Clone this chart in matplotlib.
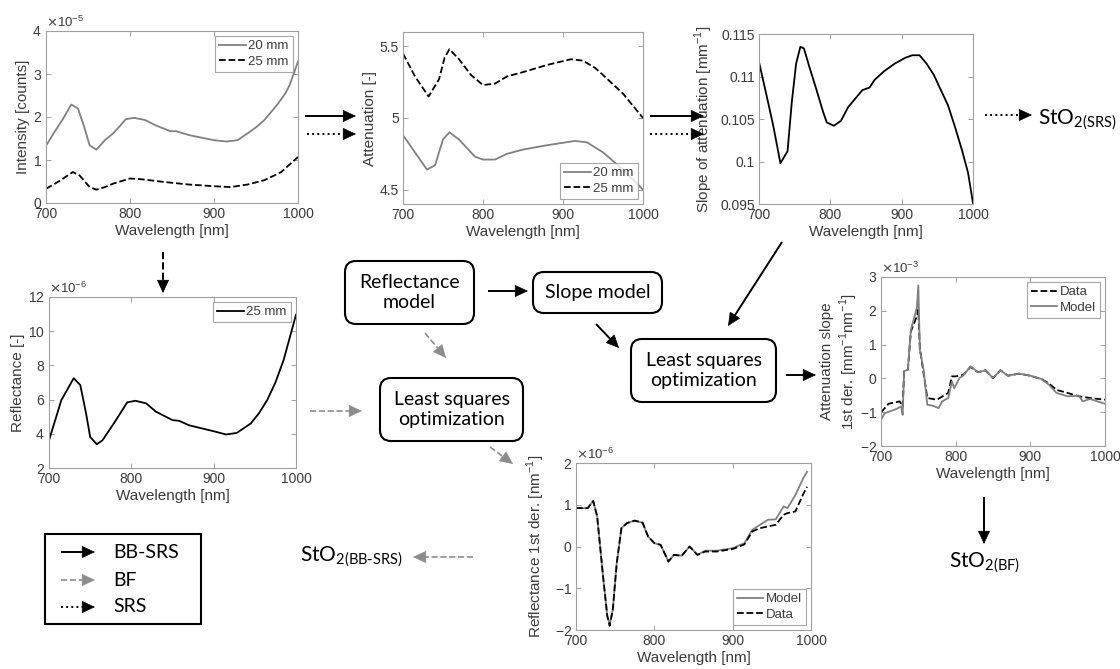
import numpy as np
import matplotlib
matplotlib.use("Agg")
import matplotlib.pyplot as plt
from matplotlib.patches import FancyBboxPatch, Rectangle
from matplotlib.ticker import FuncFormatter

plt.rcParams['font.family'] = ['Liberation Sans', 'DejaVu Sans']

# ---- data ----
# intensity (counts, x1e-5)
int_wl_20 = [700, 710, 720, 730, 738, 745, 752, 760, 770, 780, 788, 795, 805, 818, 830, 848, 855, 870, 900, 915,
             928, 940, 950, 960, 975, 985, 990, 1000]
int_20 = [1.33, 1.65, 1.95, 2.29, 2.20, 1.80, 1.34, 1.24, 1.46, 1.62, 1.79, 1.95, 1.98, 1.93, 1.81, 1.67, 1.67,
          1.58, 1.46, 1.43, 1.46, 1.62, 1.76, 1.93, 2.28, 2.55, 2.74, 3.29]
int_wl_25 = [700, 715, 732, 740, 752, 760, 770, 780, 800, 815, 840, 870, 900, 920, 940, 960, 980, 1000]
int_25 = [0.33, 0.50, 0.72, 0.64, 0.37, 0.31, 0.37, 0.45, 0.57, 0.55, 0.49, 0.43, 0.39, 0.37, 0.43, 0.53, 0.72, 1.07]

# attenuation
att_wl_25 = [700, 715, 732, 745, 752, 758, 770, 785, 800, 815, 830, 850, 880, 910, 925, 940, 950, 975, 1000]
att_25 = [5.45, 5.29, 5.15, 5.27, 5.42, 5.48, 5.41, 5.30, 5.23, 5.24, 5.29, 5.32, 5.37, 5.41, 5.40, 5.35, 5.30,
          5.17, 5.00]
att_wl_20 = [700, 715, 730, 740, 750, 758, 770, 790, 800, 815, 830, 850, 880, 915, 930, 950, 975, 1000]
att_20 = [4.88, 4.76, 4.64, 4.67, 4.85, 4.90, 4.85, 4.73, 4.71, 4.71, 4.75, 4.78, 4.81, 4.84, 4.83, 4.76, 4.64, 4.50]

# slope of attenuation
slope_wl = [700, 710, 720, 730, 740, 746, 752, 758, 763, 770, 780, 790, 795, 805, 815, 825, 835, 845, 855, 862, 875,
            890, 905, 915, 925, 935, 945, 955, 965, 975, 985, 993, 1000]
slope = [0.1117, 0.1080, 0.1042, 0.0998, 0.1012, 0.1070, 0.1115, 0.1135, 0.1133, 0.1113, 0.1086, 0.1058, 0.1046,
         0.1042, 0.1048, 0.1064, 0.1074, 0.1084, 0.1087, 0.1096, 0.1106, 0.1115, 0.1122, 0.1125, 0.1125, 0.1115,
         0.1102, 0.1084, 0.1066, 0.1040, 0.1012, 0.0987, 0.0951]

# reflectance 25 mm (x1e-6)
refl_wl = [700, 715, 730, 738, 745, 750, 758, 765, 780, 795, 805, 818, 830, 850, 858, 870, 900, 915, 928, 945, 955,
           965, 975, 985, 1000]
refl = [3.62, 5.97, 7.25, 6.85, 5.20, 3.82, 3.39, 3.62, 4.70, 5.84, 5.93, 5.78, 5.29, 4.80, 4.76, 4.50, 4.15, 3.96,
        4.05, 4.60, 5.20, 5.97, 7.00, 8.32, 10.96]

# attenuation slope 1st derivative (x1e-3)
asd_wl_model = [700, 705, 720, 727, 729, 731, 736, 740, 745, 748, 750, 752, 757, 762, 770, 777, 782, 790, 795, 798,
                805, 810, 820, 830, 840, 850, 860, 870, 885, 900, 915, 925, 935, 950, 965, 970, 980, 1000]
asd_model = [-1.22, -1.03, -0.91, -0.83, -1.08, 0.21, 0.26, 1.44, 1.84, 2.09, 2.75, 0.85, 0.26, -0.78, -0.81, -0.88,
             -0.68, -0.58, -0.09, -0.29, 0.01, 0.08, 0.36, 0.18, 0.24, 0.01, 0.24, 0.08, 0.14, 0.08, -0.02, -0.19,
             -0.43, -0.53, -0.51, -0.68, -0.61, -0.75]
asd_wl_data = [700, 710, 725, 729, 731, 736, 740, 748, 750, 752, 762, 775, 790, 795, 800, 810, 820, 830, 840, 850,
               860, 870, 885, 900, 915, 925, 935, 950, 965, 980, 1000]
asd_data = [-1.01, -0.75, -0.68, -0.83, 0.21, 0.26, 1.39, 1.84, 2.04, 0.90, -0.58, -0.63, -0.43, 0.06, 0.06, 0.10,
            0.34, 0.18, 0.24, 0.01, 0.24, 0.08, 0.14, 0.08, -0.02, -0.15, -0.34, -0.43, -0.53, -0.58, -0.63]

# reflectance 1st derivative (x1e-6)
rd_wl = [700, 715, 722, 727, 735, 740, 743, 747, 752, 758, 765, 775, 785, 792, 800, 808, 818, 825, 835, 845, 855,
         865, 880, 900, 915, 925, 935, 945, 955, 965, 970, 980, 990, 995]
rd_model = [0.92, 0.92, 1.09, 0.72, -0.80, -1.67, -1.87, -1.51, -0.40, 0.44, 0.56, 0.62, 0.57, 0.24, 0.08, 0.04,
            -0.36, -0.20, -0.22, 0.00, -0.20, -0.10, -0.10, -0.04, 0.08, 0.40, 0.52, 0.64, 0.65, 0.96, 0.92, 1.23,
            1.63, 1.79]
rd_data = [0.92, 0.92, 1.09, 0.72, -0.80, -1.67, -1.90, -1.51, -0.40, 0.44, 0.56, 0.62, 0.57, 0.24, 0.08, 0.04,
           -0.36, -0.20, -0.22, 0.00, -0.20, -0.12, -0.12, -0.06, 0.05, 0.36, 0.44, 0.48, 0.52, 0.76, 0.80, 0.84,
           1.25, 1.43]

W, H = 1120, 669
fig = plt.figure(figsize=(W / 100, H / 100), dpi=100)
GRAY = '#808080'
TXT = '#3a3a3a'


def px_axes(x0, y0, x1, y1):
    return fig.add_axes([x0 / W, 1 - y1 / H, (x1 - x0) / W, (y1 - y0) / H])


def style(ax):
    ax.set_xlim(700, 1000)
    ax.set_xticks([700, 800, 900, 1000])
    ax.tick_params(direction='in', top=True, right=True, length=3.5, width=0.6, color='#909090',
                   labelsize=10, labelcolor=TXT, pad=3)
    for s in ax.spines.values():
        s.set_color('#a0a0a0')
        s.set_linewidth(0.8)
    ax.set_xlabel('Wavelength [nm]', fontsize=11, color=TXT, labelpad=2)


def ylab(ax, text, xfrac):
    ax.set_ylabel(text, fontsize=11, color=TXT)
    ax.yaxis.set_label_coords(xfrac, 0.5)


def sci(ax, p):
    ax.ticklabel_format(axis='y', style='sci', scilimits=(p, p), useMathText=True)
    ax.yaxis.get_offset_text().set_fontsize(9.5)
    ax.yaxis.get_offset_text().set_color(TXT)


def leg(ax, loc, order=None):
    h, l = ax.get_legend_handles_labels()
    if order:
        h = [h[i] for i in order]
        l = [l[i] for i in order]
    lg = ax.legend(h, l, loc=loc, fontsize=9.5, frameon=True, fancybox=False, handlelength=2.0,
                   handletextpad=0.2, borderpad=0.3, labelspacing=0.25, borderaxespad=0.4)
    lg.get_frame().set_edgecolor('#909090')
    lg.get_frame().set_linewidth(0.8)
    for t in lg.get_texts():
        t.set_color(TXT)


gfmt = FuncFormatter(lambda v, p: '%g' % v)

# intensity
ax1 = px_axes(46, 31, 298, 203)
ax1.plot(int_wl_20, np.array(int_20) * 1e-5, color=GRAY, lw=1.3, label='20 mm')
ax1.plot(int_wl_25, np.array(int_25) * 1e-5, color='black', lw=1.3, ls='--', label='25 mm')
ax1.set_ylim(0, 4e-5)
style(ax1)
sci(ax1, -5)
ylab(ax1, 'Intensity [counts]', -0.063)
leg(ax1, 'upper right')

# attenuation
ax2 = px_axes(403, 32, 643, 204)
ax2.plot(att_wl_25, att_25, color='black', lw=1.3, ls='--', label='25 mm')
ax2.plot(att_wl_20, att_20, color=GRAY, lw=1.3, label='20 mm')
ax2.set_ylim(4.4, 5.6)
ax2.set_yticks([4.5, 5, 5.5])
ax2.yaxis.set_major_formatter(gfmt)
style(ax2)
ylab(ax2, 'Attenuation [-]', -0.108)
leg(ax2, 'lower right', order=[1, 0])

# slope of attenuation
ax3 = px_axes(759, 34, 973, 204)
ax3.plot(slope_wl, slope, color='black', lw=1.3)
ax3.set_ylim(0.095, 0.115)
ax3.set_yticks([0.095, 0.1, 0.105, 0.11, 0.115])
ax3.yaxis.set_major_formatter(gfmt)
style(ax3)
ylab(ax3, r'Slope of attenuation [mm$^{\mathregular{-1}}$]', -0.206)

# reflectance
ax4 = px_axes(49, 297, 296, 468)
ax4.plot(refl_wl, np.array(refl) * 1e-6, color='black', lw=1.3, label='25 mm')
ax4.set_ylim(2e-6, 12e-6)
ax4.set_yticks(np.arange(2, 13, 2) * 1e-6)
style(ax4)
sci(ax4, -6)
ylab(ax4, 'Reflectance [-]', -0.097)
leg(ax4, 'upper right')

# attenuation slope 1st der.
ax5 = px_axes(881, 277, 1105, 446)
ax5.plot(asd_wl_data, np.array(asd_data) * 1e-3, color='black', lw=1.3, ls='--', label='Data')
ax5.plot(asd_wl_model, np.array(asd_model) * 1e-3, color=GRAY, lw=1.3, label='Model')
ax5.set_ylim(-2e-3, 3e-3)
style(ax5)
sci(ax5, -3)
ylab(ax5, 'Attenuation slope\n' + r'1st der. [mm$^{\mathregular{-1}}$nm$^{\mathregular{-1}}$]', -0.094)
leg(ax5, 'upper right')

# reflectance 1st der.
ax6 = px_axes(576, 463, 811, 630)
ax6.plot(rd_wl, np.array(rd_model) * 1e-6, color=GRAY, lw=1.3, label='Model')
ax6.plot(rd_wl, np.array(rd_data) * 1e-6, color='black', lw=1.3, ls='--', label='Data')
ax6.set_ylim(-2e-6, 2e-6)
style(ax6)
sci(ax6, -6)
ylab(ax6, r'Reflectance 1st der. [nm$^{\mathregular{-1}}$]', -0.123)
leg(ax6, 'lower right')

# ---- flow overlay in pixel coordinates ----
ov = fig.add_axes([0, 0, 1, 1])
ov.set_xlim(0, W)
ov.set_ylim(H, 0)
ov.axis('off')
ov.patch.set_alpha(0)

FLOW = ['Lato', 'DejaVu Sans']
BFGRAY = '#8c8c8c'


def arrow(x0, y0, x1, y1, ls='-', color='black', lw=1.4):
    d = np.array([x1 - x0, y1 - y0], float)
    u = d / np.hypot(*d)
    hl = 12
    s = np.array([x1, y1]) - u * hl * 0.9
    ov.plot([x0, s[0]], [y0, s[1]], color=color, lw=lw, ls=ls, solid_capstyle='butt')
    b = np.array([x1, y1]) - u * hl
    ov.annotate('', xy=(x1, y1), xytext=(b[0], b[1]),
                arrowprops=dict(arrowstyle='-|>,head_length=0.43,head_width=0.2', color=color, lw=0.5,
                                shrinkA=0, shrinkB=0, mutation_scale=20))


def box(x0, y0, x1, y1, text):
    ov.add_patch(FancyBboxPatch((x0, y0), x1 - x0, y1 - y0, boxstyle='round,pad=0,rounding_size=11',
                                fc='white', ec='black', lw=1.5))
    ov.text((x0 + x1) / 2, (y0 + y1) / 2, text, ha='center', va='center', fontsize=14, family=FLOW,
            linespacing=1.15)


box(345, 261, 474, 324, 'Reflectance\nmodel')
box(533, 272, 662, 313, 'Slope model')
box(631, 339, 776, 402, 'Least squares\noptimization')
box(380, 378, 523, 441, 'Least squares\noptimization')

# BB-SRS / SRS arrows
arrow(305, 116, 356, 116)
arrow(307, 134, 356, 134, ls=':')
arrow(650, 116, 704, 116)
arrow(650, 134, 704, 134, ls=':')
arrow(985, 115, 1032, 115, ls=':')
arrow(163, 252, 163, 293, ls='--')
arrow(488, 291, 528, 291)
arrow(596, 324, 619, 348)
arrow(782, 242, 728, 326)
arrow(786, 375, 816, 375)
arrow(984, 497, 984, 544)

# BF arrows
arrow(425, 333, 446, 358, ls='--', color=BFGRAY, lw=1.2)
arrow(310, 411, 362, 411, ls='--', color=BFGRAY, lw=1.2)
arrow(490, 447, 513, 464, ls='--', color=BFGRAY, lw=1.2)
arrow(473, 557, 413, 557, ls='--', color=BFGRAY, lw=1.2)

ov.text(1038, 124, r'StO$_{\mathregular{2(SRS)}}$', fontsize=15, family=FLOW, va='baseline')
ov.text(300, 561, r'StO$_{\mathregular{2(BB\text{-}SRS)}}$', fontsize=15, family=FLOW, va='baseline')
ov.text(949, 567, r'StO$_{\mathregular{2(BF)}}$', fontsize=15, family=FLOW, va='baseline')

# legend of arrow types
ov.add_patch(Rectangle((45, 534), 156, 90, fc='white', ec='black', lw=1.5))
arrow(61, 552, 95, 552)
arrow(61, 580, 95, 580, ls='--', color=BFGRAY, lw=1.2)
arrow(61, 607, 95, 607, ls=':')
for yy, t in [(552, 'BB-SRS'), (580, 'BF'), (607, 'SRS')]:
    ov.text(113, yy, t, fontsize=14, family=FLOW, va='center')

fig.savefig('out.png', dpi=100)
